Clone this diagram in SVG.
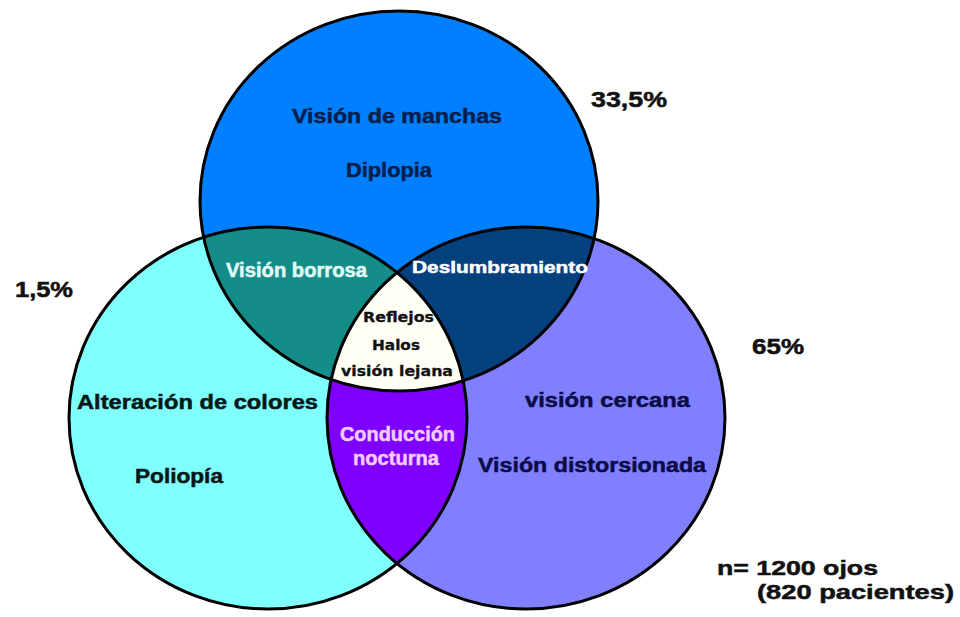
<svg xmlns="http://www.w3.org/2000/svg" width="960" height="617" viewBox="0 0 960 617">
<style>
.t{font-family:"Liberation Sans",Arial,sans-serif;font-weight:bold;stroke-width:0.5;}
.s{font-family:"DejaVu Sans",Verdana,sans-serif;font-weight:bold;stroke-width:0.3;}
.edge{fill:none;stroke:#000;stroke-width:3;}
</style>
<defs>
<ellipse id="eTop" cx="399" cy="201" rx="199" ry="190"/>
<ellipse id="eLeft" cx="268" cy="418" rx="199" ry="191"/>
<ellipse id="eRight" cx="526" cy="418" rx="199" ry="191"/>
<clipPath id="cTop"><use href="#eTop"/></clipPath>
<clipPath id="cLeft"><use href="#eLeft"/></clipPath>
<clipPath id="cRight"><use href="#eRight"/></clipPath>
</defs>
<rect width="960" height="617" fill="#fff"/>
<g id="set-top"><use href="#eTop" fill="#0080FF"/></g>
<g id="set-left"><use href="#eLeft" fill="#80FFFF"/></g>
<g id="set-right"><use href="#eRight" fill="#8080FF"/></g>
<g id="top-left"><use href="#eLeft" fill="#148C87" clip-path="url(#cTop)"/></g>
<g id="top-right"><use href="#eRight" fill="#05407F" clip-path="url(#cTop)"/></g>
<g id="left-right"><use href="#eRight" fill="#7F00FF" clip-path="url(#cLeft)"/></g>
<g id="all-three" clip-path="url(#cTop)"><use href="#eRight" fill="#FFFFF6" clip-path="url(#cLeft)"/></g>
<g id="outlines">
<use href="#eTop" class="edge"/>
<use href="#eLeft" class="edge"/>
<use href="#eRight" class="edge"/>
</g>
<g id="labels-top" class="t" font-size="19.5" fill="#06204E" stroke="#06204E">
<text x="292" y="123" textLength="210" lengthAdjust="spacingAndGlyphs">Visión de manchas</text>
<text x="346" y="177" textLength="86" lengthAdjust="spacingAndGlyphs">Diplopia</text>
</g>
<g id="labels-left" class="t" font-size="19.5" fill="#081818" stroke="#081818">
<text x="77" y="409" textLength="241" lengthAdjust="spacingAndGlyphs">Alteración de colores</text>
<text x="135" y="483" textLength="88" lengthAdjust="spacingAndGlyphs">Poliopía</text>
</g>
<g id="labels-right" class="t" font-size="19.5" fill="#0C0C46" stroke="#0C0C46">
<text x="525" y="407" textLength="165" lengthAdjust="spacingAndGlyphs">visión cercana</text>
<text x="478" y="472" textLength="228" lengthAdjust="spacingAndGlyphs">Visión distorsionada</text>
</g>
<g id="label-top-left" class="t" font-size="19.5" fill="#E2FAF8" stroke="#E2FAF8">
<text x="226" y="277" textLength="141" lengthAdjust="spacingAndGlyphs">Visión borrosa</text>
</g>
<g id="label-top-right" class="t" font-size="17" fill="#FFFFFF" stroke="#FFFFFF">
<text x="412" y="273" textLength="176" lengthAdjust="spacingAndGlyphs">Deslumbramiento</text>
</g>
<g id="label-left-right" class="t" font-size="20.5" fill="#F2CCFF" stroke="#F2CCFF">
<text x="340" y="441" textLength="115" lengthAdjust="spacingAndGlyphs">Conducción</text>
<text x="353" y="465" textLength="86" lengthAdjust="spacingAndGlyphs">nocturna</text>
</g>
<g id="label-all" class="s" font-size="13.5" fill="#111" stroke="#111">
<text x="363" y="322" textLength="71" lengthAdjust="spacingAndGlyphs">Reflejos</text>
<text x="372" y="350" textLength="48" lengthAdjust="spacingAndGlyphs">Halos</text>
<text x="341" y="376" textLength="112" lengthAdjust="spacingAndGlyphs">visión lejana</text>
</g>
<g id="percentages" class="t" font-size="21.5" fill="#111" stroke="#111">
<text x="591" y="107" textLength="76" lengthAdjust="spacingAndGlyphs">33,5%</text>
<text x="15" y="297" textLength="58" lengthAdjust="spacingAndGlyphs">1,5%</text>
<text x="752" y="354" textLength="52" lengthAdjust="spacingAndGlyphs">65%</text>
</g>
<g id="sample" class="t" font-size="20.5" fill="#111" stroke="#111">
<text x="717" y="575" textLength="161" lengthAdjust="spacingAndGlyphs">n= 1200 ojos</text>
<text x="757" y="599" textLength="197" lengthAdjust="spacingAndGlyphs">(820 pacientes)</text>
</g>
</svg>
